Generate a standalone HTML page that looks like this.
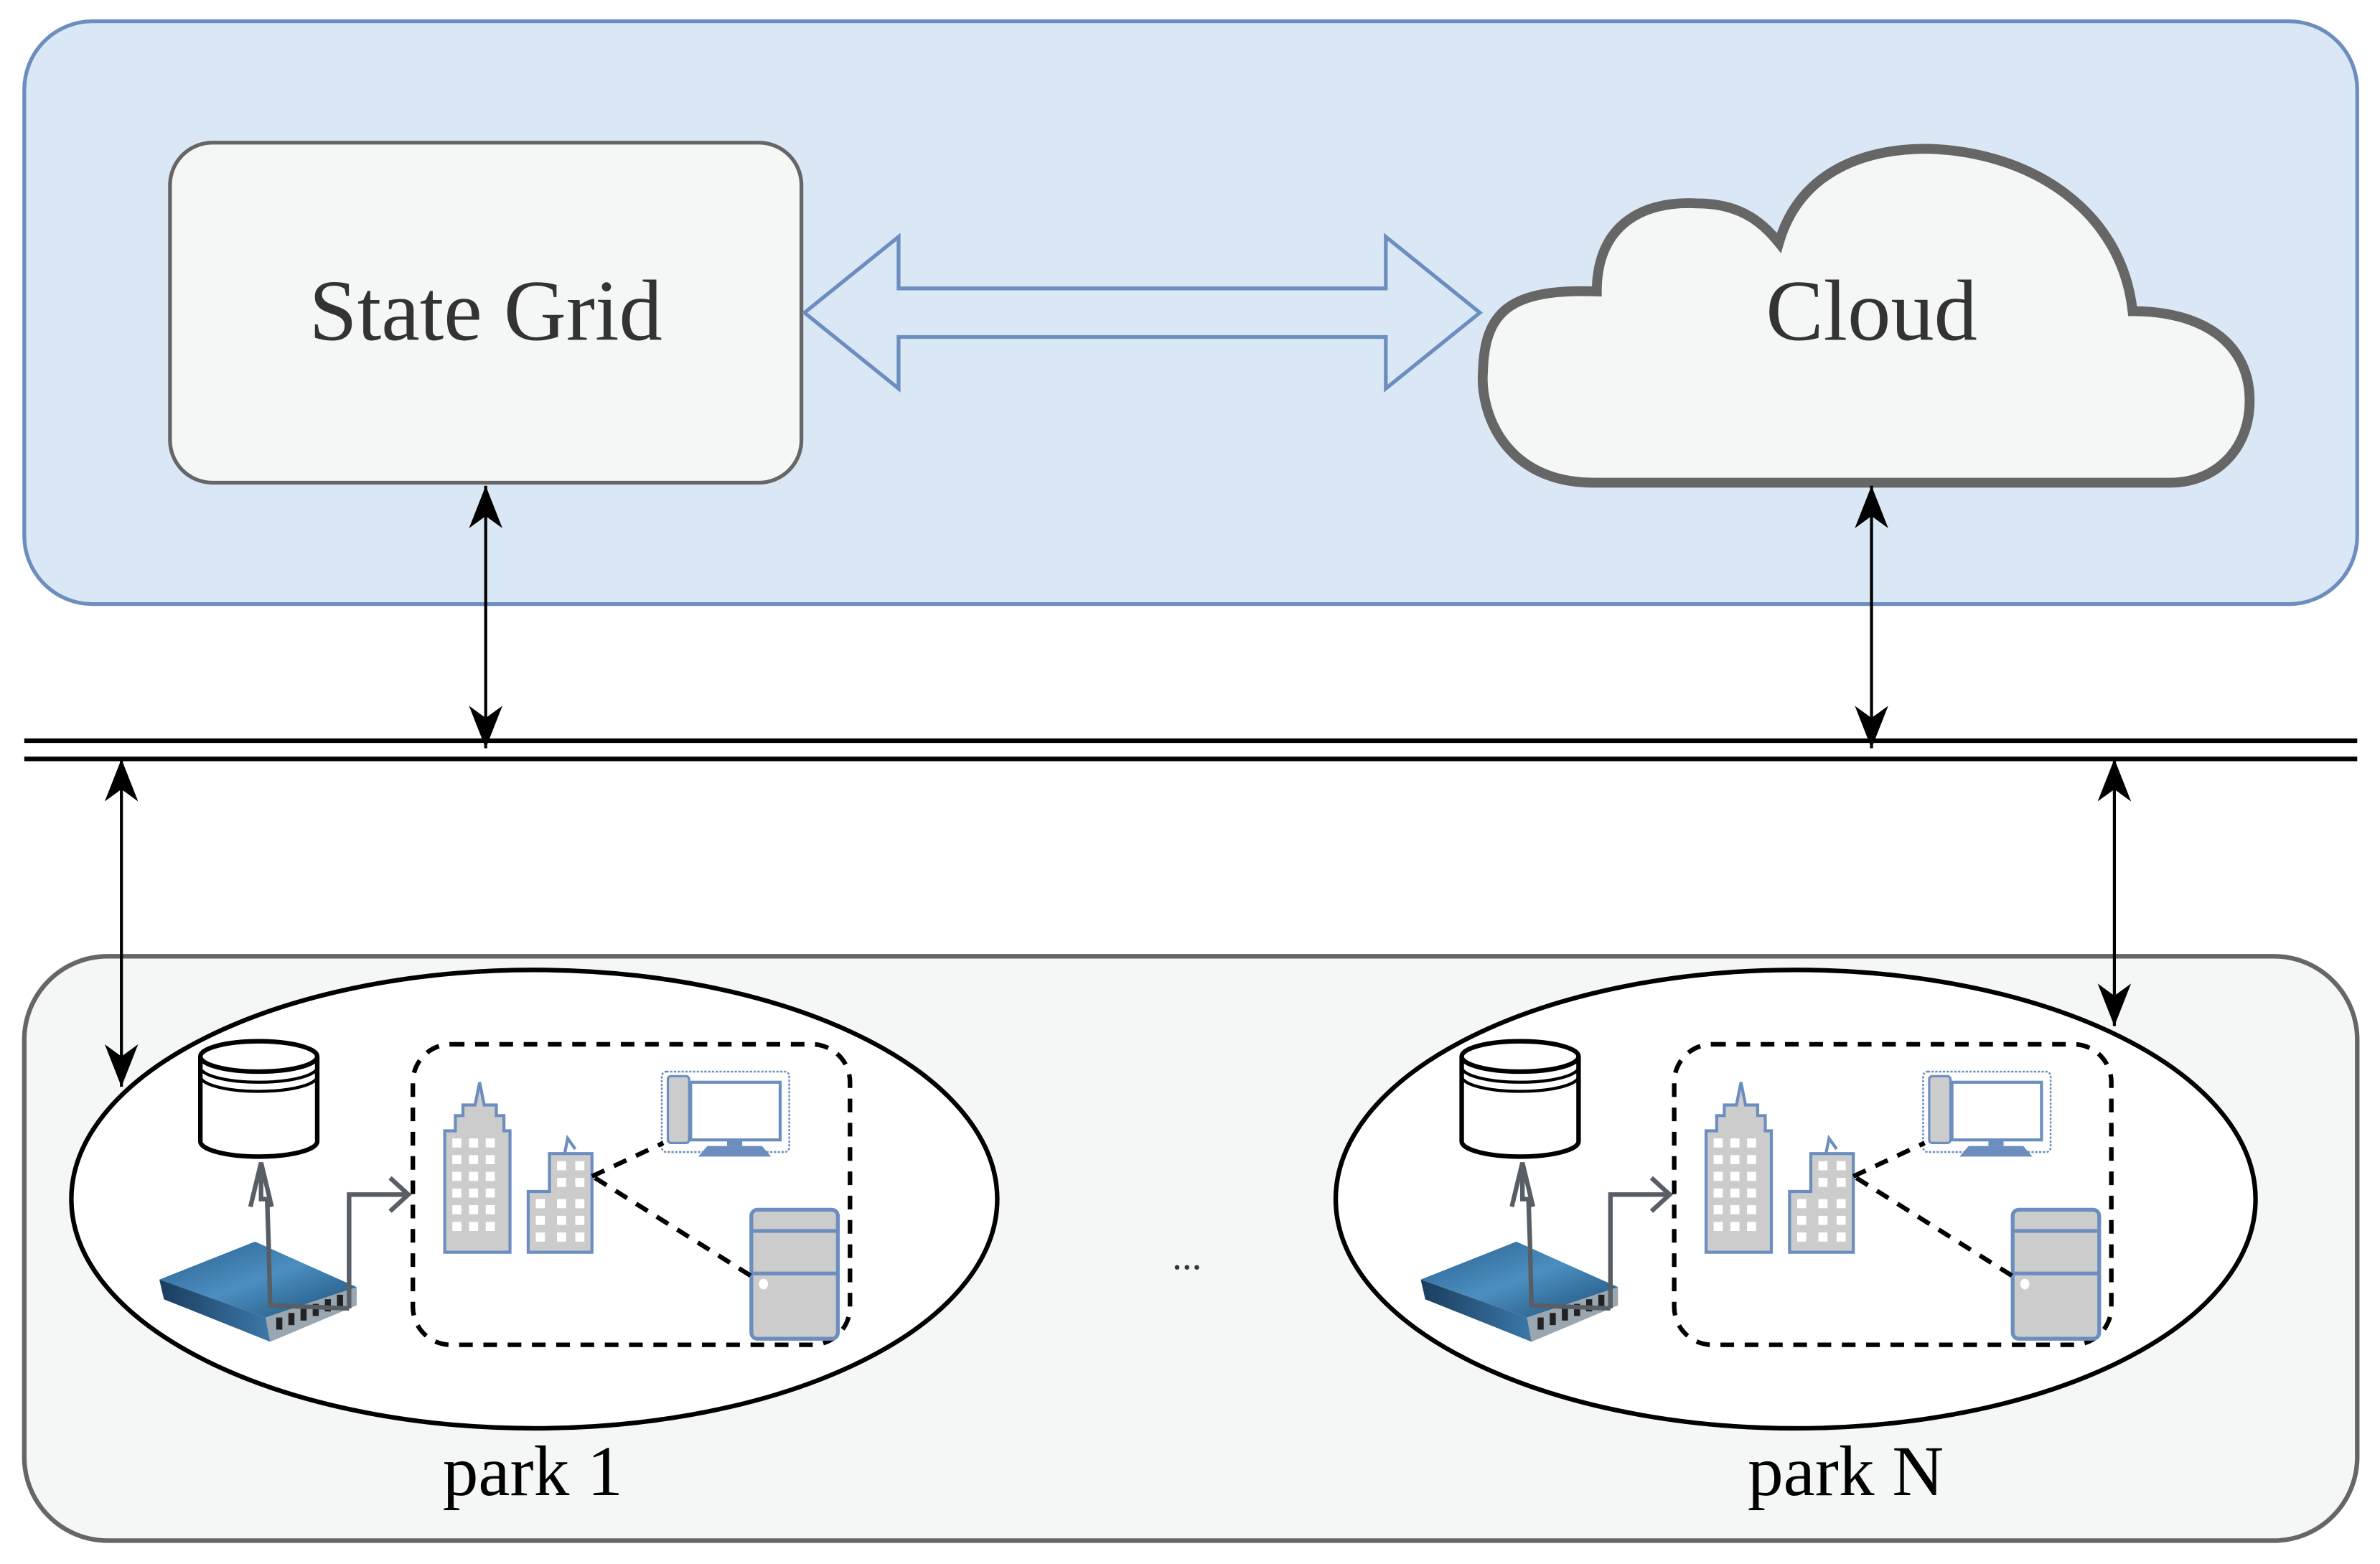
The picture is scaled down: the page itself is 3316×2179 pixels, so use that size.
<!DOCTYPE html>
<html><head><meta charset="utf-8"><style>
html,body{margin:0;padding:0;background:#fff;}
svg{display:block;}
text{font-family:"Liberation Serif",serif;}
</style></head><body>
<svg width="3316" height="2179" viewBox="0 0 1568 1030.4" preserveAspectRatio="none" xmlns="http://www.w3.org/2000/svg">
<defs>
<marker id="ah" viewBox="0 0 28 22" refX="28" refY="11" markerWidth="28" markerHeight="22" markerUnits="userSpaceOnUse" orient="auto-start-reverse">
<path d="M0,0 L28,11 L0,22 L8,11 Z" fill="#000"/>
</marker>
<linearGradient id="rt" x1="0" y1="0" x2="1" y2="1">
<stop offset="0" stop-color="#2a5f8f"/><stop offset="0.5" stop-color="#4b8fc0"/><stop offset="1" stop-color="#1d4e78"/>
</linearGradient>
<linearGradient id="rf" x1="0" y1="0" x2="1" y2="0">
<stop offset="0" stop-color="#1a3d5e"/><stop offset="1" stop-color="#3c78a8"/>
</linearGradient>
<g id="park">
<path d="M132,696 L132,752 A38.5,10 0 0 0 209,752 L209,696" fill="#fff" stroke="#000" stroke-width="3"/>
<ellipse cx="170.5" cy="696" rx="38.5" ry="10" fill="#fff" stroke="#000" stroke-width="3"/>
<path d="M132,703 A38.5,10 0 0 0 209,703 M132,709 A38.5,10 0 0 0 209,709" fill="none" stroke="#000" stroke-width="2"/>
<polygon points="105,843 168,818 235,848 175,868" fill="url(#rt)"/>
<polygon points="175,868 235,848 235,860 178,884" fill="#9aa6b0"/>
<polygon points="105,843 175,868 178,884 108,856" fill="url(#rf)"/>
<g fill="#222"><rect x="182" y="868" width="4" height="8"/><rect x="190" y="865" width="4" height="8"/><rect x="198" y="862" width="4" height="8"/><rect x="206" y="859" width="4" height="8"/><rect x="214" y="856" width="4" height="8"/><rect x="222" y="853" width="4" height="8"/></g>
<path d="M230,862 L178,860 L177,820 L176,790 L172,790 L172,767" fill="none" stroke="#575e66" stroke-width="3"/>
<path d="M165,795 L172,766 L179,795" fill="none" stroke="#575e66" stroke-width="3"/>
<path d="M230,862 L230,787 L268,787" fill="none" stroke="#575e66" stroke-width="3"/>
<path d="M257,776 L269,787 L257,798" fill="none" stroke="#575e66" stroke-width="3"/>
<rect x="272" y="688" width="288" height="198" rx="25" fill="none" stroke="#000" stroke-width="3" stroke-dasharray="9,7"/>
<path d="M293,825 L293,745 L300,745 L300,735 L305,735 L305,728 L313,728 L316,713 L319,728 L327,728 L327,735 L332,735 L332,745 L336,745 L336,825 Z" fill="#ccc" stroke="#6c8ebf" stroke-width="2"/>
<g fill="#fff">
<rect x="298" y="750" width="6" height="6"/><rect x="309" y="750" width="6" height="6"/><rect x="320" y="750" width="6" height="6"/>
<rect x="298" y="761" width="6" height="6"/><rect x="309" y="761" width="6" height="6"/><rect x="320" y="761" width="6" height="6"/>
<rect x="298" y="772" width="6" height="6"/><rect x="309" y="772" width="6" height="6"/><rect x="320" y="772" width="6" height="6"/>
<rect x="298" y="783" width="6" height="6"/><rect x="309" y="783" width="6" height="6"/><rect x="320" y="783" width="6" height="6"/>
<rect x="298" y="794" width="6" height="6"/><rect x="309" y="794" width="6" height="6"/><rect x="320" y="794" width="6" height="6"/>
<rect x="298" y="805" width="6" height="6"/><rect x="309" y="805" width="6" height="6"/><rect x="320" y="805" width="6" height="6"/>
</g>
<path d="M348,825 L348,785 L362,785 L362,760 L390,760 L390,825 Z" fill="#ccc" stroke="#6c8ebf" stroke-width="2"/>
<path d="M372,760 L374,750 L379,757" fill="none" stroke="#6c8ebf" stroke-width="2"/>
<g fill="#fff">
<rect x="367" y="765" width="6" height="6"/><rect x="379" y="765" width="6" height="6"/>
<rect x="367" y="776" width="6" height="6"/><rect x="379" y="776" width="6" height="6"/>
<rect x="353" y="790" width="6" height="6"/><rect x="367" y="790" width="6" height="6"/><rect x="379" y="790" width="6" height="6"/>
<rect x="353" y="801" width="6" height="6"/><rect x="367" y="801" width="6" height="6"/><rect x="379" y="801" width="6" height="6"/>
<rect x="353" y="812" width="6" height="6"/><rect x="367" y="812" width="6" height="6"/><rect x="379" y="812" width="6" height="6"/>
</g>
<rect x="436" y="706" width="84" height="53" rx="3" fill="#fff" stroke="#6c8ebf" stroke-width="1.2" stroke-dasharray="1.5,1"/>
<rect x="440" y="709" width="14" height="44" rx="2" fill="#ccc" stroke="#6c8ebf" stroke-width="1.5"/>
<rect x="455" y="713" width="59" height="38" fill="#fff" stroke="#6c8ebf" stroke-width="2"/>
<rect x="479" y="751" width="10" height="4" fill="#6c8ebf"/>
<polygon points="466,755 502,755 508,762 460,762" fill="#6c8ebf"/>
<rect x="495" y="797" width="57" height="85" rx="4" fill="#ccc" stroke="#6c8ebf" stroke-width="2.5"/>
<line x1="495" y1="811" x2="552" y2="811" stroke="#6c8ebf" stroke-width="2.5"/>
<line x1="495" y1="839" x2="552" y2="839" stroke="#6c8ebf" stroke-width="2.5"/>
<ellipse cx="503" cy="846" rx="3" ry="3.5" fill="#fff"/>
<line x1="390" y1="775" x2="437" y2="753" stroke="#000" stroke-width="3" stroke-dasharray="9,7"/>
<line x1="392" y1="776" x2="497" y2="842" stroke="#000" stroke-width="3" stroke-dasharray="9,7"/>
</g>
</defs>

<rect x="16" y="14" width="1537" height="384" rx="45" fill="#dae8f6" stroke="#6c8ebf" stroke-width="2.5"/>
<rect x="112" y="94" width="416" height="224" rx="28" fill="#f5f7f6" stroke="#666" stroke-width="2.5"/>
<text x="320" y="224" font-size="57" fill="#333" text-anchor="middle">State Grid</text>
<path d="M530,206 L592,156 L592,190 L913,190 L913,156 L975,206 L913,256 L913,222 L592,222 L592,256 Z" fill="#dae8f6" stroke="#6c8ebf" stroke-width="2.5"/>
<path d="M1050,318 C990,318 975,270 977,245 C978,205 995,190 1052,192 C1052,150 1080,132 1118,134 C1145,134 1160,145 1172,160 C1185,115 1225,98 1270,98 C1340,100 1398,140 1405,205 C1450,205 1480,225 1482,260 C1484,295 1460,318 1430,318 Z" fill="#f5f7f6" stroke="#666" stroke-width="6.5"/>
<text x="1233" y="224" font-size="57" fill="#333" text-anchor="middle">Cloud</text>

<line x1="16" y1="488" x2="1553" y2="488" stroke="#000" stroke-width="3"/>
<line x1="16" y1="500" x2="1553" y2="500" stroke="#000" stroke-width="3"/>

<rect x="16" y="630" width="1537" height="385" rx="55" fill="#f5f7f6" stroke="#666" stroke-width="3"/>

<line x1="320" y1="320" x2="320" y2="493" stroke="#000" stroke-width="2" marker-start="url(#ah)" marker-end="url(#ah)"/>
<line x1="1233" y1="320" x2="1233" y2="493" stroke="#000" stroke-width="2" marker-start="url(#ah)" marker-end="url(#ah)"/>
<line x1="80" y1="500" x2="80" y2="716" stroke="#000" stroke-width="2" marker-start="url(#ah)" marker-end="url(#ah)"/>

<ellipse cx="352" cy="790" rx="305" ry="151" fill="#fff" stroke="#000" stroke-width="3"/>
<ellipse cx="1183" cy="790" rx="303" ry="151" fill="#fff" stroke="#000" stroke-width="3"/>
<use href="#park"/>
<use href="#park" transform="translate(831,0)"/>
<line x1="1393" y1="500" x2="1393" y2="676" stroke="#000" stroke-width="2" marker-start="url(#ah)" marker-end="url(#ah)"/>

<text x="782" y="836" font-size="26" fill="#333" text-anchor="middle">...</text>
<text x="351" y="985" font-size="47" fill="#000" text-anchor="middle">park 1</text>
<text x="1216" y="985" font-size="47" fill="#000" text-anchor="middle">park N</text>
</svg>
</body></html>
